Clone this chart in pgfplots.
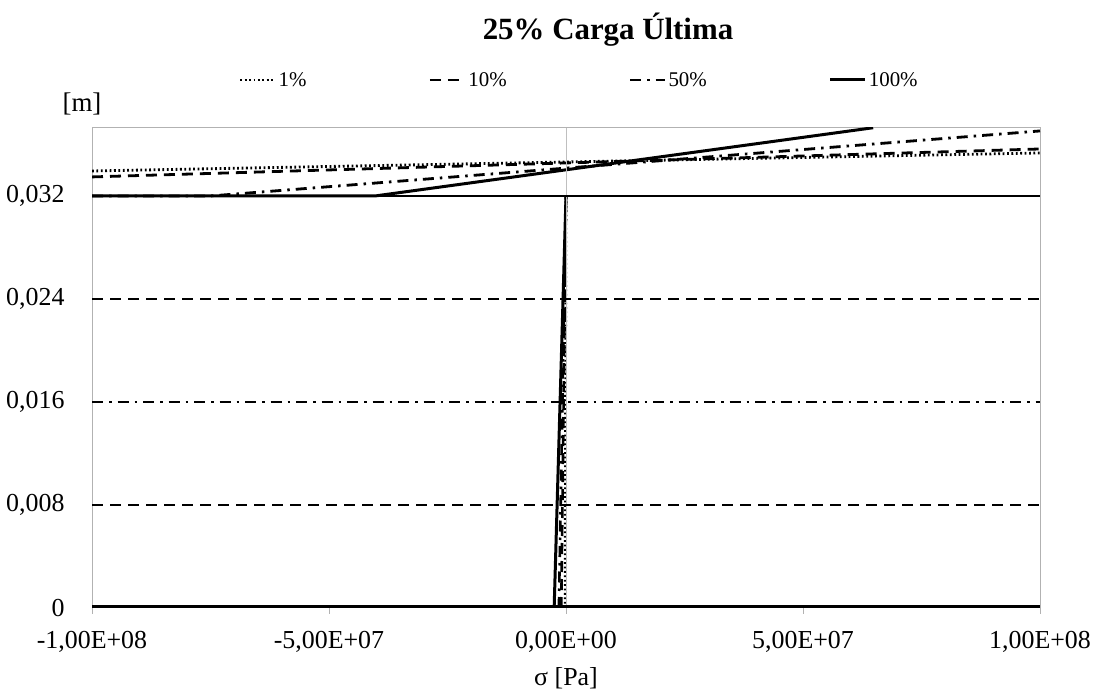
\documentclass[border=0pt]{standalone}
\usepackage{fontspec}
\setmainfont{Liberation Serif}
\usepackage{pgfplots}
\pgfplotsset{compat=1.18}
\begin{document}
\begin{tikzpicture}
\useasboundingbox (0,0) rectangle (1098bp,691bp);
\begin{axis}[
  at={(92bp,83bp)}, anchor=south west,
  scale only axis, width=948bp, height=480bp,
  xmin=-1e8, xmax=1e8, ymin=0, ymax=0.03728,
  axis line style={gray!60, line width=1bp},
  xtick={-1e8,-5e7,0,5e7,1e8},
  xticklabels={{-1,00E+08},{-5,00E+07},{0,00E+00},{5,00E+07},{1,00E+08}},
  ytick={0,0.008,0.016,0.024,0.032},
  yticklabels={0,{0,008},{0,016},{0,024},{0,032}},
  tick align=outside, xtick pos=bottom, ytick pos=left,
  xtick style={gray!60, line width=1bp},
  ytick style={draw=none},
  major tick length=6bp,
  ticklabel style={font=\fontsize{26}{30}\selectfont},
  yticklabel style={xshift=-18bp},
  xticklabel style={yshift=-14bp},
  scaled ticks=false,
  legend style={at={(rel axis cs:0.514,1.1)}, anchor=center, draw=none, fill=none,
    legend columns=4, font=\fontsize{21}{25}\selectfont,
    /tikz/every even column/.append style={column sep=120bp}},
  legend image code/.code={\draw[#1] (0bp,0bp) -- (35bp,0bp);},
]
% upper segments (legend)
\addplot[black, line width=2.8bp, dash pattern=on 1.8bp off 2.6bp] coordinates {(-1e8,0.03394) (1e8,0.03534)};
\addlegendentry{1\%}
\addplot[black, line width=2.8bp, dash pattern=on 11bp off 7bp] coordinates {(-1e8,0.03348) (1e8,0.03565)};
\addlegendentry{10\%}
\addplot[black, line width=2.8bp, dash pattern=on 11bp off 6bp on 2.5bp off 6bp] coordinates {(-1e8,0.032) (-7.5e7,0.032) (1e8,0.03705)};
\addlegendentry{50\%}
\addplot[black, line width=3bp] coordinates {(-1e8,0.032) (-4.03e7,0.032) (6.48e7,0.0373)};
\addlegendentry{100\%}
% lower segments
\addplot[forget plot, black, line width=2.6bp, dash pattern=on 1.8bp off 2.6bp] coordinates {(-0.2e6,0) (0,0.032)};
\addplot[forget plot, black, line width=2.6bp, dash pattern=on 11bp off 7bp] coordinates {(-1.0e6,0) (0,0.032)};
\addplot[forget plot, black, line width=2.6bp, dash pattern=on 11bp off 6bp on 2.5bp off 6bp] coordinates {(-1.5e6,0) (0,0.032)};
\addplot[forget plot, black, line width=3bp] coordinates {(-2.5e6,0) (0,0.032)};
% zero line
\addplot[forget plot, gray!50, line width=1bp] coordinates {(0,0) (0,0.03728)};
% horizontal levels
\addplot[forget plot, black, line width=5bp] coordinates {(-1e8,0) (1e8,0)};
\addplot[forget plot, black, line width=2bp, dash pattern=on 11bp off 7bp] coordinates {(-1e8,0.008) (1e8,0.008)};
\addplot[forget plot, black, line width=2bp, dash pattern=on 11bp off 6bp on 2.5bp off 6bp] coordinates {(-1e8,0.016) (1e8,0.016)};
\addplot[forget plot, black, line width=2bp, dash pattern=on 11bp off 7bp] coordinates {(-1e8,0.024) (1e8,0.024)};
\addplot[forget plot, black, line width=2.5bp] coordinates {(-1e8,0.032) (1e8,0.032)};
\end{axis}
\node[font=\fontsize{31}{36}\selectfont\bfseries] at (608bp,661bp) {25\% Carga Última};
\node[font=\fontsize{27}{32}\selectfont] at (82bp,587bp) {[m]};
\node[font=\fontsize{26}{30}\selectfont] at (566bp,13bp) {σ [Pa]};
\end{tikzpicture}
\end{document}
